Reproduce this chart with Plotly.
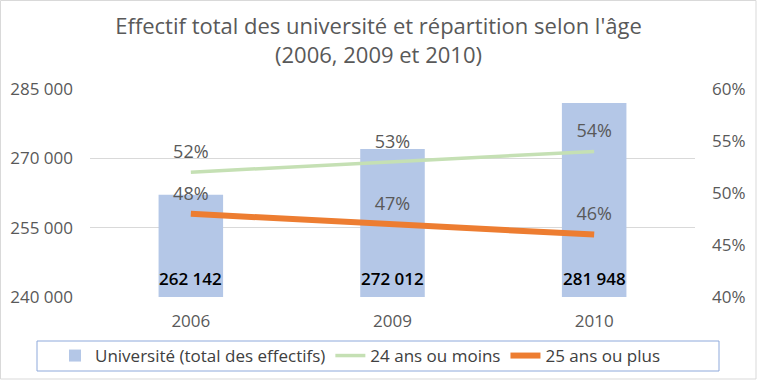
import plotly.graph_objects as go

years = ["2006", "2009", "2010"]
effectifs = [262142, 272012, 281948]
moins24 = [0.52, 0.53, 0.54]
plus25 = [0.48, 0.47, 0.46]
left_ticks = [240000, 255000, 270000, 285000]
left_labels = ["240 000", "255 000", "270 000", "285 000"]
right_ticks = [0.40, 0.45, 0.50, 0.55, 0.60]
right_labels = ["40%", "45%", "50%", "55%", "60%"]

FONT = "Open Sans"
GRAY = "#595959"

bar_text = [f"{v:,}".replace(",", " ") for v in effectifs]

fig = go.Figure()
fig.add_trace(go.Bar(
    x=years, y=effectifs, name="Université (total des effectifs)",
    marker=dict(color="#B4C7E7", line=dict(width=0)),
    width=0.32, textposition="none",
))
fig.add_trace(go.Scatter(
    x=years, y=moins24, name="24 ans ou moins", yaxis="y2",
    mode="lines+markers+text", line=dict(color="#C5E0B4", width=3.5),
    marker=dict(size=14, color="rgba(0,0,0,0)"),
    text=[f"{round(v*100)}%" for v in moins24], textposition="top center",
    textfont=dict(family=FONT, size=18, color=GRAY), cliponaxis=False,
))
fig.add_trace(go.Scatter(
    x=years, y=plus25, name="25 ans ou plus", yaxis="y2",
    mode="lines+markers+text", line=dict(color="#ED7D31", width=6),
    marker=dict(size=14, color="rgba(0,0,0,0)"),
    text=[f"{round(v*100)}%" for v in plus25], textposition="top center",
    textfont=dict(family=FONT, size=18, color=GRAY), cliponaxis=False,
))

for i, txt in enumerate(bar_text):
    fig.add_annotation(
        x=i, y=left_ticks[0], xref="x", yref="y", text=txt, showarrow=False,
        yanchor="bottom", yshift=5,
        font=dict(family=FONT, size=17, color="#000000", weight=600),
    )

L, R, T, B = 90, 62, 89, 83
W, H = 757, 380
pw, ph = W - L - R, H - T - B

def px(x):
    return (x - L) / pw

def py(y):
    return (H - B - y) / ph

fig.update_layout(
    width=W, height=H,
    margin=dict(l=L, r=R, t=T, b=B, autoexpand=False),
    paper_bgcolor="white", plot_bgcolor="white",
    font=dict(family=FONT, size=17, color=GRAY),
    title=dict(
        text="Effectif total des université et répartition selon l'âge<br>(2006, 2009 et 2010)",
        x=0.5, xref="container", xanchor="center",
        y=1 - 34 / H, yref="container", yanchor="middle",
        font=dict(family=FONT, size=22, color=GRAY),
    ),
    xaxis=dict(
        type="category", range=[-0.5, len(years) - 0.5],
        showgrid=False, showline=False, ticks="",
        tickfont=dict(family=FONT, size=17, color=GRAY),
        ticklabelstandoff=12,
    ),
    yaxis=dict(
        range=[240000, 285000], tickvals=left_ticks, ticktext=left_labels,
        showgrid=True, gridcolor="#D9D9D9", gridwidth=1, zeroline=False,
        showline=False, ticks="", ticklabelstandoff=16,
        tickfont=dict(family=FONT, size=17, color=GRAY),
    ),
    yaxis2=dict(
        range=[0.40, 0.60], tickvals=right_ticks, ticktext=right_labels,
        overlaying="y", side="right", showgrid=False, zeroline=False,
        showline=False, ticks="", ticklabelstandoff=16,
        tickfont=dict(family=FONT, size=17, color=GRAY),
    ),
    showlegend=True,
    legend=dict(
        orientation="h",
        x=px(55), xanchor="left", y=py(356), yanchor="middle",
        borderwidth=0, bgcolor="rgba(0,0,0,0)",
        font=dict(family=FONT, size=17, color="#404040"),
        itemwidth=30, tracegroupgap=0,
    ),
    shapes=[
        dict(type="rect", xref="paper", yref="paper",
             x0=px(0.5), x1=px(756), y0=py(379), y1=py(0.5),
             line=dict(color="#D9D9D9", width=1),
             fillcolor="rgba(0,0,0,0)", layer="below"),
        dict(type="rect", xref="paper", yref="paper",
             x0=px(37), x1=px(719), y0=py(371), y1=py(341),
             line=dict(color="#8EA9DB", width=1),
             fillcolor="rgba(0,0,0,0)", layer="below"),
    ],
)

fig.write_html("out.html", config={"displayModeBar": False},
               post_script="document.body.style.margin='0';")
